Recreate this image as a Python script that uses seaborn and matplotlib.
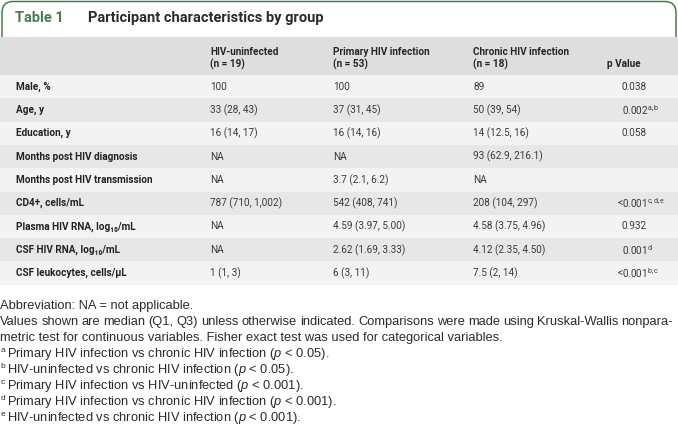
import matplotlib
matplotlib.use("Agg")
import matplotlib.pyplot as plt
import seaborn as sns
from matplotlib.patches import FancyBboxPatch

# table content
row_labels = [
    "Male, %",
    "Age, y",
    "Education, y",
    "Months post HIV diagnosis",
    "Months post HIV transmission",
    "CD4+, cells/mL",
    "Plasma HIV RNA, log\u2081\u2080/mL",
    "CSF HIV RNA, log\u2081\u2080/mL",
    "CSF leukocytes, cells/\u03bcL",
]
group_names = ["HIV-uninfected", "Primary HIV infection", "Chronic HIV infection"]
group_n = [19, 53, 18]
uninfected = ["100", "33 (28, 43)", "16 (14, 17)", "NA", "NA", "787 (710, 1,002)",
              "NA", "NA", "1 (1, 3)"]
primary = ["100", "37 (31, 45)", "16 (14, 16)", "NA", "3.7 (2.1, 6.2)", "542 (408, 741)",
           "4.59 (3.97, 5.00)", "2.62 (1.69, 3.33)", "6 (3, 11)"]
chronic = ["89", "50 (39, 54)", "14 (12.5, 16)", "93 (62.9, 216.1)", "NA", "208 (104, 297)",
           "4.58 (3.75, 4.96)", "4.12 (2.35, 4.50)", "7.5 (2, 14)"]
p_values = ["0.038", "0.002", "0.058", "", "", "0.001", "0.932", "0.001", "0.001"]
p_less = [False, False, False, False, False, True, False, False, True]
p_notes = ["", "a,b", "", "", "", "c,d,e", "", "d", "b,c"]

abbrev = "Abbreviation: NA = not applicable."
method_1 = ("Values shown are median (Q1, Q3) unless otherwise indicated. Comparisons "
            "were made using Kruskal-Wallis nonpara-")
method_2 = "metric test for continuous variables. Fisher exact test was used for categorical variables."
note_marks = ["a", "b", "c", "d", "e"]
note_texts = [
    r"Primary HIV infection vs chronic HIV infection ($\mathit{p}$ < 0.05).",
    r"HIV-uninfected vs chronic HIV infection ($\mathit{p}$ < 0.05).",
    r"Primary HIV infection vs HIV-uninfected ($\mathit{p}$ < 0.001).",
    r"Primary HIV infection vs chronic HIV infection ($\mathit{p}$ < 0.001).",
    r"HIV-uninfected vs chronic HIV infection ($\mathit{p}$ < 0.001).",
]

stripe_colors = ["#f3f3f3", "#e7e7e7"]
header_color = "#dedede"
green = "#437d50"

sns.set_theme(style="white")
plt.rcParams["font.family"] = ["Roboto", "DejaVu Sans"]
plt.rcParams["mathtext.fontset"] = "custom"
plt.rcParams["mathtext.rm"] = "Roboto"
plt.rcParams["mathtext.it"] = "Liberation Sans:italic"

W, H = 678, 428
fig = plt.figure(figsize=(W / 100, H / 100), dpi=100)

# full-figure axes in pixel units
ax = fig.add_axes([0, 0, 1, 1])
ax.set_xlim(0, W)
ax.set_ylim(H, 0)
ax.axis("off")

# title tab
tab = FancyBboxPatch((2, 1.5), W - 4, 60, boxstyle="round,pad=0,rounding_size=11",
                     fc="none", ec=green, lw=1.1, zorder=1)
ax.add_patch(tab)
ax.text(15, 18, "Table 1", color=green, fontsize=10.5, fontweight="bold", va="center")
ax.text(88, 18, "Participant characteristics by group", color="#2a2a2a",
        fontsize=10.5, fontweight="bold", va="center")

# header band
top, row_h = 75, 23.3
ax.axhspan(37, top, color=header_color, lw=0, zorder=2)
col_x = [210, 333, 473]
for x, name, n in zip(col_x, group_names, group_n):
    ax.text(x, 52, name, fontsize=7.2, fontweight="bold", color="#262626", va="center", zorder=3)
    ax.text(x, 64, f"(n = {n})", fontsize=7.2, fontweight="bold", color="#262626", va="center", zorder=3)
ax.text(607, 64, "p Value", fontsize=7.2, fontweight="bold", color="#262626", va="center", zorder=3)

# table body: stripes as horizontal bars, one per row
n_rows = len(row_labels)
body = fig.add_axes([0, 1 - (top + n_rows * row_h) / H, 1, n_rows * row_h / H])
sns.barplot(x=[W] * n_rows, y=list(range(n_rows)), orient="h", width=1.0,
            hue=list(range(n_rows)), palette=[stripe_colors[i % 2] for i in range(n_rows)],
            legend=False, linewidth=0, ax=body)
body.set_xlim(0, W)
body.set_ylim(n_rows - 0.5, -0.5)
body.axis("off")

txt = dict(fontsize=7.2, va="center")
for i in range(n_rows):
    body.text(16, i, row_labels[i], fontweight="bold", color="#222222", **txt)
    for x, col in zip(col_x, [uninfected, primary, chronic]):
        body.text(x, i, col[i], color="#3a3a3a", **txt)
    if p_values[i]:
        s = p_values[i]
        if p_notes[i]:
            s += r"$^{\mathrm{" + p_notes[i] + "}}$"
        body.text(622, i, s, color="#3a3a3a", **txt)
        if p_less[i]:
            body.text(623, i, "<", color="#3a3a3a", ha="right", **txt)

# footnotes
foot = dict(fontsize=9.3, va="center", color="#2b2b2b", family=["Liberation Sans", "DejaVu Sans"])
ax.text(0, 306, abbrev, **foot)

renderer = fig.canvas.get_renderer()
words = method_1.split()
items = [ax.text(0, 322, w, **foot) for w in words]
widths = [t.get_window_extent(renderer).width for t in items]
gap = (673 - sum(widths)) / (len(words) - 1)
x = 0
for t, w in zip(items, widths):
    t.set_x(x)
    x += w + gap
ax.text(0, 338, method_2, **foot)

for k, (m, t) in enumerate(zip(note_marks, note_texts)):
    y = 354 + 16 * k
    ax.text(0.5, y - 3.5, m, fontsize=6, va="center", color="#2b2b2b",
            family=["Liberation Sans", "DejaVu Sans"])
    ax.text(7, y, t, **foot)

fig.savefig("out.png", dpi=100)
